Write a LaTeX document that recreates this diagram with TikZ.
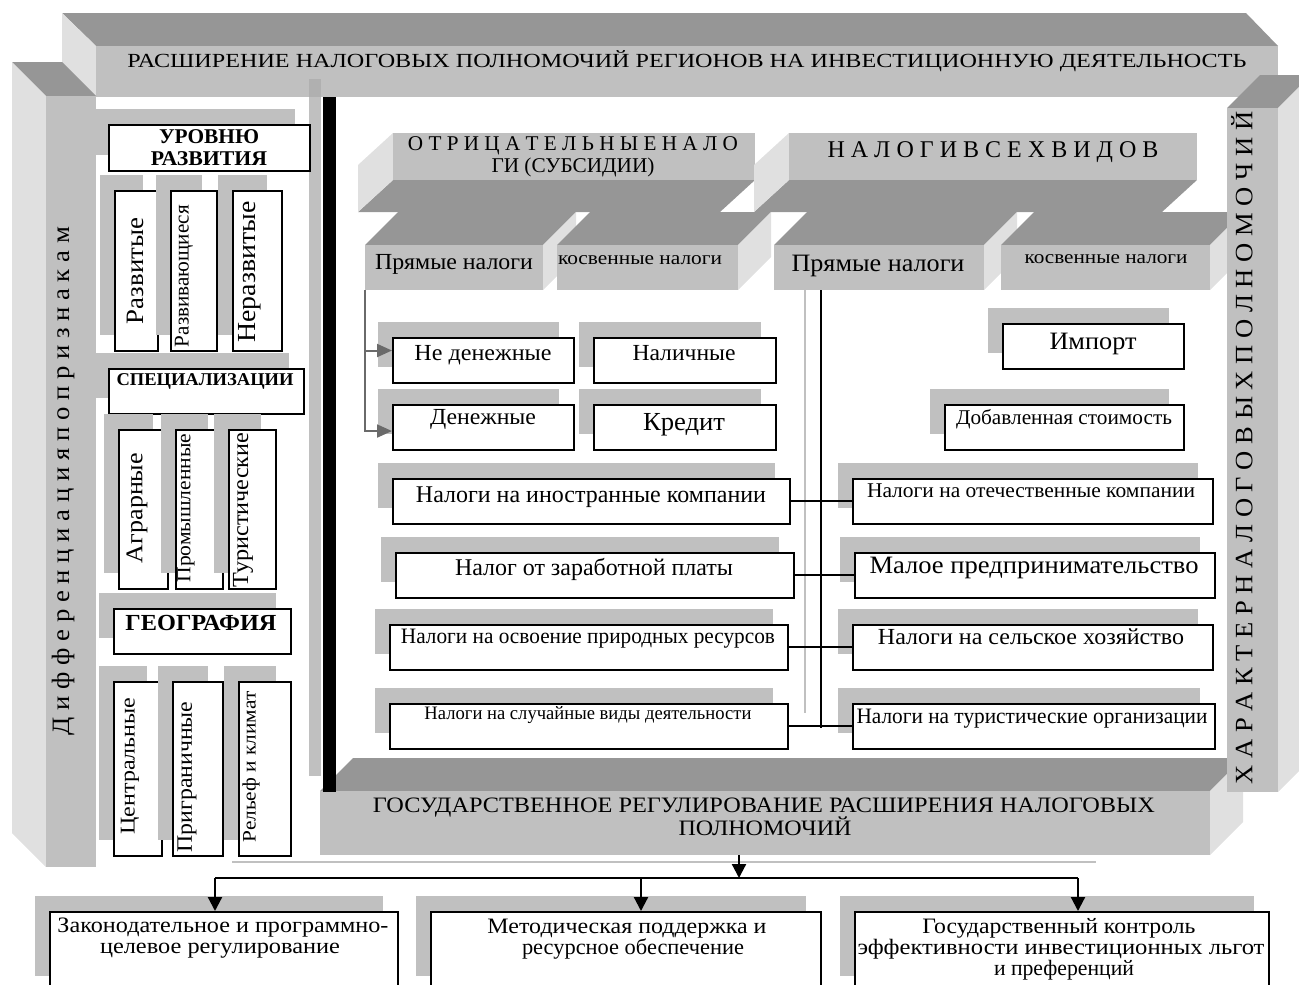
\documentclass[tikz,border=0pt]{standalone}
\usepackage{fontspec}
\setmainfont{Liberation Serif}
\usepackage{graphicx}
\usetikzlibrary{shadows,arrows.meta,calc}
\definecolor{face}{HTML}{C0C0C0}
\definecolor{topf}{HTML}{969696}
\definecolor{sidef}{HTML}{E0E0E0}
\definecolor{shad}{HTML}{C0C0C0}
\definecolor{stripd}{HTML}{B0B0B0}
\definecolor{conng}{HTML}{6A6A6A}
\newcommand{\fw}[2]{\resizebox{#1pt}{\height}{#2}}
\tikzset{
  bx/.style={draw=black, line width=1.6pt, fill=white, inner sep=0pt, anchor=north west,
    general shadow={fill=shad, shadow xshift=-15pt, shadow yshift=16pt}},
  fbox/.style={fill=face, inner sep=0pt, anchor=north west},
  txt/.style={inner sep=0pt, anchor=base, font=\fontsize{#1}{#1}\selectfont},
  btxt/.style={inner sep=0pt, anchor=base, font=\fontsize{#1}{#1}\selectfont\bfseries},
  vtxt/.style={inner sep=0pt, anchor=center, rotate=90, font=\fontsize{#1}{#1}\selectfont},
  blk/.style={line width=2pt, draw=black},
  gcon/.style={line width=2pt, draw=conng, -{Triangle[length=15pt,width=13pt]}},
  lgl/.style={line width=2pt, draw=shad},
  arr/.style={line width=2.2pt, draw=black, -{Triangle[length=14pt,width=14pt]}},
}
\begin{document}
\begin{tikzpicture}[x=1pt,y=-1pt]
\useasboundingbox (0,0) rectangle (1299,985);
\clip (0,0) rectangle (1299,985);

% ---------- top bar
\fill[topf] (62,13) -- (1246,13) -- (1278,46) -- (96,46) -- cycle;
\fill[sidef] (62,13) -- (96,46) -- (96,97) -- (62,64) -- cycle;
\node[fbox, minimum width=1182pt, minimum height=51pt] (topbar) at (96,46) {};

% ---------- left bar
\fill[topf] (12,62) -- (62,62) -- (96,96) -- (46,96) -- cycle;
\fill[sidef] (12,62) -- (46,96) -- (46,867) -- (12,833) -- cycle;
\node[fbox, minimum width=50pt, minimum height=771pt] (leftbar) at (46,96) {};

% ---------- strip beside black line
\fill[shad] (309,97) rectangle (321,776);
\fill[stripd] (309,79) rectangle (321,97);

% ---------- middle 3D blocks
\fill[topf] (393,180) -- (755,180) -- (720,212) -- (358,212) -- cycle;
\fill[sidef] (393,133) -- (393,180) -- (358,212) -- (358,165) -- cycle;
\node[fbox, minimum width=362pt, minimum height=47pt] (otr) at (393,133) {};
\fill[topf] (789,180) -- (1197,180) -- (1162,212) -- (754,212) -- cycle;
\fill[sidef] (789,133) -- (789,180) -- (754,212) -- (754,165) -- cycle;
\node[fbox, minimum width=408pt, minimum height=47pt] (nvv) at (789,133) {};

\fill[topf] (365,245) -- (543,245) -- (576,212) -- (398,212) -- cycle;
\fill[sidef] (543,245) -- (576,212) -- (576,257) -- (543,290) -- cycle;
\node[fbox, minimum width=178pt, minimum height=45pt] (pr1) at (365,245) {};
\fill[topf] (557,245) -- (738,245) -- (771,212) -- (590,212) -- cycle;
\fill[sidef] (738,245) -- (771,212) -- (771,257) -- (738,290) -- cycle;
\node[fbox, minimum width=181pt, minimum height=45pt] (kv1) at (557,245) {};
\fill[topf] (774,245) -- (984,245) -- (1017,212) -- (807,212) -- cycle;
\fill[sidef] (984,245) -- (1017,212) -- (1017,257) -- (984,290) -- cycle;
\node[fbox, minimum width=210pt, minimum height=45pt] (pr2) at (774,245) {};
\fill[topf] (1001,245) -- (1210,245) -- (1243,212) -- (1034,212) -- cycle;
\fill[sidef] (1210,245) -- (1243,212) -- (1243,257) -- (1210,290) -- cycle;
\node[fbox, minimum width=209pt, minimum height=45pt] (kv2) at (1001,245) {};

% ---------- bottom bar
\fill[topf] (320,791) -- (1210,791) -- (1243,758) -- (353,758) -- cycle;
\fill[sidef] (1210,791) -- (1243,758) -- (1243,822) -- (1210,855) -- cycle;
\node[fbox, minimum width=890pt, minimum height=64pt] (gos) at (320,791) {};

% ---------- right bar
\fill[topf] (1227,108) -- (1278,108) -- (1311,75) -- (1260,75) -- cycle;
\fill[sidef] (1278,108) -- (1311,75) -- (1311,759) -- (1278,792) -- cycle;
\node[fbox, minimum width=51pt, minimum height=684pt] (rightbar) at (1227,108) {};

% ---------- black line
\fill[black] (323,97) rectangle (336,792);

% ---------- left panel boxes
\node[bx, minimum width=201pt, minimum height=46pt] (urv) at (108,124) {};
\node[bx, minimum width=43pt, minimum height=160pt] (r1) at (114,190) {};
\node[bx, minimum width=46pt, minimum height=160pt] (r2) at (170,190) {};
\node[bx, minimum width=49pt, minimum height=160pt] (r3) at (232,190) {};
\node[bx, minimum width=195pt, minimum height=45pt] (spc) at (108,368) {};
\node[bx, minimum width=49pt, minimum height=159pt] (s1) at (118,429) {};
\node[bx, minimum width=47pt, minimum height=159pt] (s2) at (175,429) {};
\node[bx, minimum width=47pt, minimum height=159pt] (s3) at (228,429) {};
\node[bx, minimum width=177pt, minimum height=45pt] (geo) at (113,608) {};
\node[bx, minimum width=48pt, minimum height=174pt] (g1) at (113,681) {};
\node[bx, minimum width=50pt, minimum height=174pt] (g2) at (172,681) {};
\node[bx, minimum width=52pt, minimum height=174pt] (g3) at (238,681) {};

% ---------- middle boxes
\node[bx, minimum width=181pt, minimum height=45pt] (nd) at (392,337) {};
\node[bx, minimum width=182pt, minimum height=45pt] (nal) at (593,337) {};
\node[bx, minimum width=181pt, minimum height=45pt] (den) at (392,404) {};
\node[bx, minimum width=182pt, minimum height=45pt] (kred) at (593,404) {};
\node[bx, minimum width=397pt, minimum height=45pt] (ino) at (392,478) {};
\node[bx, minimum width=398pt, minimum height=45pt] (zar) at (395,552) {};
\node[bx, minimum width=398pt, minimum height=45pt] (prir) at (389,624) {};
\node[bx, minimum width=398pt, minimum height=45pt] (sluch) at (389,703) {};
\node[bx, minimum width=181pt, minimum height=45pt] (imp) at (1002,323) {};
\node[bx, minimum width=239pt, minimum height=45pt] (dob) at (944,404) {};
\node[bx, minimum width=360pt, minimum height=45pt] (ote) at (852,478) {};
\node[bx, minimum width=360pt, minimum height=45pt] (mal) at (854,552) {};
\node[bx, minimum width=360pt, minimum height=45pt] (sel) at (852,624) {};
\node[bx, minimum width=362pt, minimum height=45pt] (tur) at (852,703) {};

% ---------- bottom boxes
\node[bx, minimum width=348pt, minimum height=80pt] (b1) at (49,911) {};
\node[bx, minimum width=390pt, minimum height=80pt] (b2) at (430,911) {};
\node[bx, minimum width=414pt, minimum height=80pt] (b3) at (854,911) {};

% ---------- connectors
\coordinate (ndin) at ($(nd.north west)!0.29!(nd.south west)$);
\coordinate (denin) at ($(den.north west)!0.58!(den.south west)$);
\draw[gcon] (pr1.south west) |- (denin);
\draw[gcon] (pr1.south west |- ndin) -- (ndin);

\coordinate (ltop) at (805,275);
\coordinate (lbot) at (805,713);
\draw[lgl] (ltop) -- (lbot);
\coordinate (vtop) at (821,290);
\coordinate (vbot) at (821,728);
\draw[blk] (vtop) -- (vbot);
\draw[blk] (ino.east) -- (ote.west);
\draw[blk] (zar.east) -- (mal.west);
\draw[blk] (prir.east) -- (sel.west);
\draw[blk] (sluch.east) -- (tur.west);

\coordinate (hl1) at (232,862);
\coordinate (hl2) at (1096,862);
\draw[lgl] (hl1) -- (hl2);
\coordinate (gsa) at (739,855);
\coordinate (bus) at (739,878);
\draw[arr] (gsa) -- (bus);
\coordinate (j1) at (215,878);
\coordinate (j2) at (641,878);
\coordinate (j3) at (1078,878);
\draw[line width=2.2pt] (j1) -- (j3);
\draw[arr] (j1) -- (j1 |- b1.north);
\draw[arr] (j2) -- (j2 |- b2.north);
\draw[arr] (j3) -- (j3 |- b3.north);

% ---------- texts: bars
\node[txt=20] (t-ttl) at (687,67) {\fw{1119}{РАСШИРЕНИЕ НАЛОГОВЫХ ПОЛНОМОЧИЙ РЕГИОНОВ НА ИНВЕСТИЦИОННУЮ ДЕЯТЕЛЬНОСТЬ}};
\node[vtxt=25] (t-dif) at (63,481) {\fw{508}{Д и ф ф е р е н ц и а ц и я п о п р и з н а к а м}};
\node[vtxt=25] (t-har) at (1242,448) {\fw{673}{Х А Р А К Т Е Р Н А Л О Г О В Ы Х П О Л Н О М О Ч И Й}};
\node[txt=22] (t-gos1) at (764,812) {\fw{782}{ГОСУДАРСТВЕННОЕ РЕГУЛИРОВАНИЕ РАСШИРЕНИЯ НАЛОГОВЫХ}};
\node[txt=22] (t-gos2) at (765,835) {\fw{173}{ПОЛНОМОЧИЙ}};

% ---------- texts: left panel
\node[btxt=21] (t-urv1) at (209,143) {\fw{100}{УРОВНЮ}};
\node[btxt=21] (t-urv2) at (209,165) {\fw{116}{РАЗВИТИЯ}};
\node[vtxt=25] (t-r1) at (135,271) {\fw{106}{Развитые}};
\node[vtxt=21] (t-r2) at (184,276) {\fw{142}{Развивающиеся}};
\node[vtxt=26] (t-r3) at (250,272) {\fw{141}{Неразвитые}};
\node[btxt=18] (t-spc) at (205,385) {\fw{177}{СПЕЦИАЛИЗАЦИИ}};
\node[vtxt=24] (t-s1) at (137,508) {\fw{110}{Аграрные}};
\node[vtxt=20] (t-s2) at (186,508) {\fw{149}{Промышленные}};
\node[vtxt=23] (t-s3) at (243,510) {\fw{155}{Туристические}};
\node[btxt=23] (t-geo) at (201,630) {\fw{151}{ГЕОГРАФИЯ}};
\node[vtxt=21] (t-g1) at (130,766) {\fw{137}{Центральные}};
\node[vtxt=22] (t-g2) at (187,777) {\fw{151}{Приграничные}};
\node[vtxt=19] (t-g3) at (251,767) {\fw{151}{Рельеф и климат}};

% ---------- texts: middle
\node[txt=21] (t-otr1) at (573,150) {\fw{330}{О Т Р И Ц А Т Е Л Ь Н Ы Е Н А Л О}};
\node[txt=21] (t-otr2) at (573,172) {\fw{163}{ГИ (СУБСИДИИ)}};
\node[txt=24] (t-nvv) at (993,157) {\fw{331}{Н А Л О Г И В С Е Х В И Д О В}};
\node[txt=23] (t-pr1) at (454,269) {\fw{158}{Прямые налоги}};
\node[txt=19] (t-kv1) at (640,264) {\fw{164}{косвенные налоги}};
\node[txt=25] (t-pr2) at (878,271) {\fw{173}{Прямые налоги}};
\node[txt=19] (t-kv2) at (1106,263) {\fw{163}{косвенные налоги}};
\node[txt=23] (t-nd) at (483,360) {\fw{137}{Не денежные}};
\node[txt=23] (t-nal) at (684,360) {\fw{103}{Наличные}};
\node[txt=23] (t-den) at (483,424) {\fw{106}{Денежные}};
\node[txt=26] (t-kred) at (684,430) {\fw{82}{Кредит}};
\node[txt=24] (t-ino) at (591,502) {\fw{350}{Налоги на иностранные компании}};
\node[txt=24] (t-zar) at (594,575) {\fw{278}{Налог от заработной платы}};
\node[txt=22] (t-prir) at (588,643) {\fw{374}{Налоги на освоение природных ресурсов}};
\node[txt=19] (t-sl) at (588,719) {\fw{327}{Налоги на случайные виды деятельности}};
\node[txt=25] (t-imp) at (1093,349) {\fw{87}{Импорт}};
\node[txt=21] (t-dob) at (1064,424) {\fw{216}{Добавленная стоимость}};
\node[txt=21] (t-ote) at (1031,497) {\fw{328}{Налоги на отечественные компании}};
\node[txt=25] (t-mal) at (1034,573) {\fw{329}{Малое предпринимательство}};
\node[txt=23] (t-sel) at (1031,644) {\fw{306}{Налоги на сельское хозяйство}};
\node[txt=22] (t-tur) at (1032,723) {\fw{351}{Налоги на туристические организации}};

% ---------- texts: bottom boxes
\node[txt=22] (t-b1a) at (223,932) {\fw{331}{Законодательное и программно-}};
\node[txt=22] (t-b1b) at (220,953) {\fw{240}{целевое регулирование}};
\node[txt=22] (t-b2a) at (627,933) {\fw{279}{Методическая поддержка и}};
\node[txt=22] (t-b2b) at (633,954) {\fw{222}{ресурсное обеспечение}};
\node[txt=22] (t-b3a) at (1059,933) {\fw{273}{Государственный контроль}};
\node[txt=22] (t-b3b) at (1061,954) {\fw{407}{эффективности инвестиционных льгот}};
\node[txt=22] (t-b3c) at (1064,975) {\fw{140}{и преференций}};
\end{tikzpicture}
\end{document}
